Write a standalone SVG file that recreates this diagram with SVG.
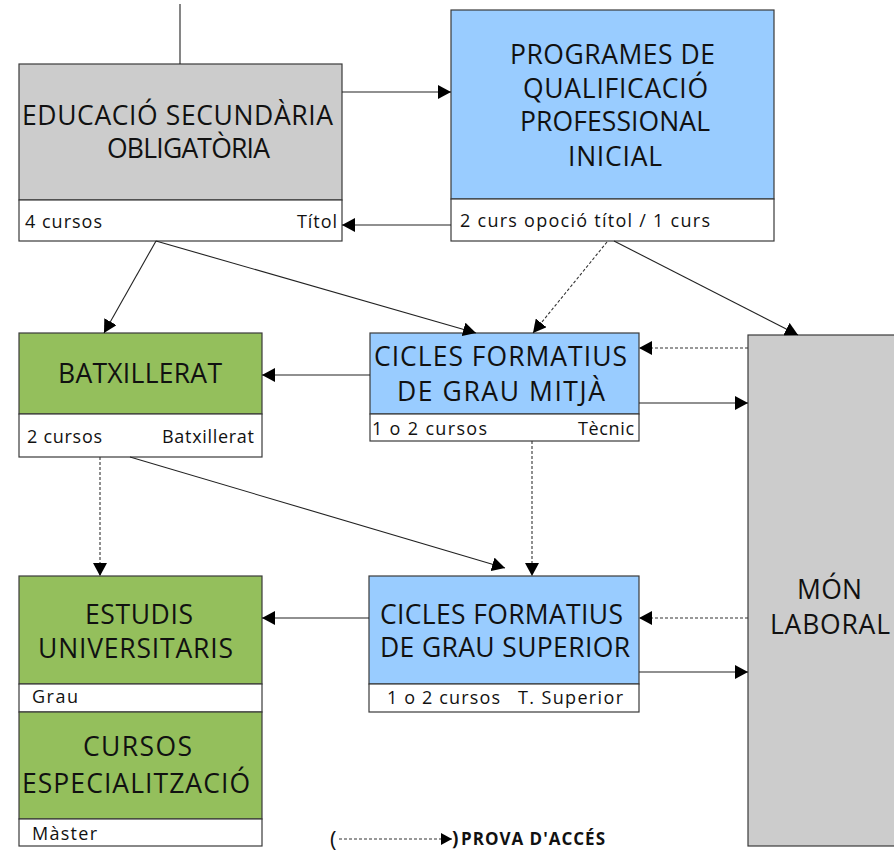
<svg xmlns="http://www.w3.org/2000/svg" width="894" height="853" viewBox="0 0 894 853">
<style>
.box{stroke:#3a3a3a;stroke-width:1.2}
.gray{fill:#cccccc}
.blue{fill:#99ccff}
.green{fill:#94bf5c}
.foot{fill:#ffffff}
.t{font-family:"Open Sans","Liberation Sans",sans-serif;font-size:26.5px;fill:#111}
.f{font-family:"Open Sans","Liberation Sans",sans-serif;font-size:18px;fill:#111}
.lg{font-family:"Open Sans","Liberation Sans",sans-serif;font-size:17px;font-weight:bold;fill:#111}
.c{fill:none;stroke:#222;stroke-width:1.1}
.d{fill:none;stroke:#333;stroke-width:1.1;stroke-dasharray:3 2}
</style>
<defs>
<marker id="ah" markerUnits="userSpaceOnUse" markerWidth="14" markerHeight="14" refX="13" refY="7" orient="auto">
<path d="M0,0 L13,7 L0,14 z" fill="#000"/>
</marker>
<marker id="ahs" markerUnits="userSpaceOnUse" markerWidth="12" markerHeight="12" refX="11" refY="6" orient="auto">
<path d="M0,0 L11,6 L0,12 z" fill="#000"/>
</marker>
</defs>
<rect width="894" height="853" fill="#fff"/>

<g id="eso">
<rect class="box gray" x="19" y="64" width="323" height="136"/>
<rect class="box foot" x="19" y="200" width="323" height="41"/>
<text class="t" x="22" y="125" textLength="311">EDUCACIÓ SECUNDÀRIA</text>
<text class="t" x="107" y="158" textLength="163">OBLIGATÒRIA</text>
<text class="f" x="25" y="228" textLength="77">4 cursos</text>
<text class="f" x="297" y="228" textLength="40">Títol</text>
</g>

<g id="pqpi">
<rect class="box blue" x="451" y="10" width="323" height="189"/>
<rect class="box foot" x="451" y="199" width="323" height="42"/>
<text class="t" x="510" y="64" textLength="205">PROGRAMES DE</text>
<text class="t" x="523" y="98" textLength="185">QUALIFICACIÓ</text>
<text class="t" x="520" y="131" textLength="190">PROFESSIONAL</text>
<text class="t" x="568" y="166" textLength="94">INICIAL</text>
<text class="f" x="460" y="227" textLength="250">2 curs opoció títol / 1 curs</text>
</g>

<g id="batxillerat">
<rect class="box green" x="19" y="333" width="243" height="81"/>
<rect class="box foot" x="19" y="414" width="243" height="43"/>
<text class="t" x="58" y="383" textLength="164">BATXILLERAT</text>
<text class="f" x="27" y="443" textLength="75">2 cursos</text>
<text class="f" x="162" y="443" textLength="92">Batxillerat</text>
</g>

<g id="cfgm">
<rect class="box blue" x="370" y="333" width="269" height="81"/>
<rect class="box foot" x="370" y="414" width="269" height="27"/>
<text class="t" x="374" y="366" textLength="253">CICLES FORMATIUS</text>
<text class="t" x="397" y="401" textLength="208">DE GRAU MITJÀ</text>
<text class="f" x="372" y="435" textLength="115">1 o 2 cursos</text>
<text class="f" x="578" y="435" textLength="56">Tècnic</text>
</g>

<g id="mon-laboral">
<rect class="box gray" x="748" y="335" width="170" height="511"/>
<text class="t" x="797" y="599" textLength="65">MÓN</text>
<text class="t" x="770" y="634" textLength="120">LABORAL</text>
</g>

<g id="estudis">
<rect class="box green" x="19" y="576" width="243" height="108"/>
<rect class="box foot" x="19" y="684" width="243" height="28"/>
<text class="t" x="85" y="624" textLength="108">ESTUDIS</text>
<text class="t" x="38" y="658" textLength="195">UNIVERSITARIS</text>
<text class="f" x="32" y="703" textLength="46">Grau</text>
</g>

<g id="cursos">
<rect class="box green" x="19" y="712" width="243" height="107"/>
<rect class="box foot" x="19" y="819" width="243" height="27"/>
<text class="t" x="83" y="756" textLength="109">CURSOS</text>
<text class="t" x="22" y="793" textLength="228">ESPECIALITZACIÓ</text>
<text class="f" x="32" y="840" textLength="65">Màster</text>
</g>

<g id="cfgs">
<rect class="box blue" x="369" y="576" width="270" height="108"/>
<rect class="box foot" x="369" y="684" width="270" height="28"/>
<text class="t" x="380" y="624" textLength="243">CICLES FORMATIUS</text>
<text class="t" x="380" y="657" textLength="250">DE GRAU SUPERIOR</text>
<text class="f" x="387" y="704" textLength="113">1 o 2 cursos</text>
<text class="f" x="518" y="704" textLength="105">T. Superior</text>
</g>

<g id="connectors">
<line class="c" x1="180" y1="4" x2="180" y2="64"/>
<line class="c" x1="342" y1="92" x2="451" y2="92" marker-end="url(#ah)"/>
<line class="c" x1="451" y1="225" x2="342" y2="225" marker-end="url(#ah)"/>
<line class="c" x1="156" y1="241" x2="104" y2="333" marker-end="url(#ah)"/>
<line class="c" x1="156" y1="241" x2="476" y2="333" marker-end="url(#ah)"/>
<line class="d" x1="607" y1="242" x2="533" y2="333" marker-end="url(#ah)"/>
<line class="c" x1="614" y1="241" x2="798" y2="335" marker-end="url(#ah)"/>
<line class="c" x1="370" y1="375" x2="262" y2="375" marker-end="url(#ah)"/>
<line class="d" x1="748" y1="348" x2="639" y2="348" marker-end="url(#ah)"/>
<line class="c" x1="639" y1="403" x2="748" y2="403" marker-end="url(#ah)"/>
<line class="d" x1="100" y1="457" x2="100" y2="576" marker-end="url(#ah)"/>
<line class="c" x1="130" y1="457" x2="505" y2="568" marker-end="url(#ah)"/>
<line class="d" x1="532" y1="441" x2="532" y2="576" marker-end="url(#ah)"/>
<line class="c" x1="369" y1="618" x2="262" y2="618" marker-end="url(#ah)"/>
<line class="d" x1="748" y1="618" x2="639" y2="618" marker-end="url(#ah)"/>
<line class="c" x1="639" y1="672" x2="748" y2="672" marker-end="url(#ah)"/>
</g>

<g id="legend">
<text class="f" x="330" y="847" style="font-size:22px">(</text>
<line class="d" x1="339" y1="839" x2="452" y2="839" marker-end="url(#ahs)"/>
<text class="lg" x="452" y="845" style="font-size:19px">)</text>
<text class="lg" x="461" y="845" textLength="144">PROVA D'ACCÉS</text>
</g>
</svg>
